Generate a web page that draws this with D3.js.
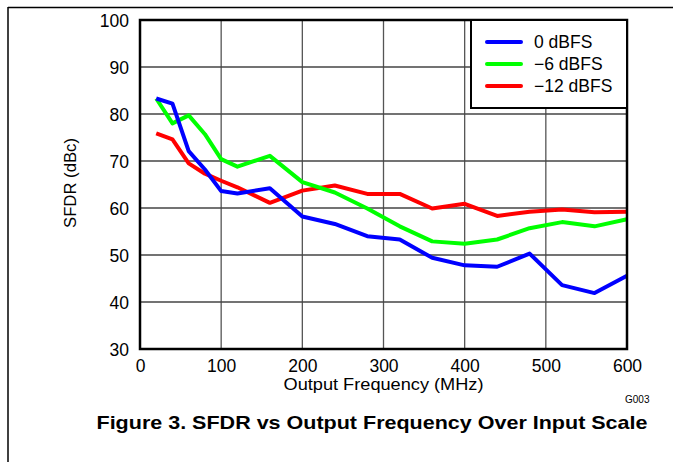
<!DOCTYPE html>
<html>
<head>
<meta charset="utf-8">
<script src="https://cdn.jsdelivr.net/npm/d3@7"></script>
<style>
  body { margin: 0; background: #fff; }
  svg text { font-family: "Liberation Sans", Arial, sans-serif; fill: #000; }
</style>
</head>
<body>
<script>
// output frequency (MHz)
var freqs = [20, 40, 60, 80, 100, 120, 160, 200, 240, 280, 320, 360, 400, 440, 480, 520, 560, 600];
// SFDR (dBc) per input scale
var sfdr0 = [83.3, 82.2, 72.1, 68.2, 63.6, 63.1, 64.2, 58.2, 56.6, 54.0, 53.3, 49.4, 47.8, 47.5, 50.3, 43.6, 41.9, 45.6];
var sfdr6 = [83.3, 78.0, 79.7, 75.7, 70.4, 68.8, 71.1, 65.5, 63.3, 59.9, 56.1, 52.9, 52.4, 53.3, 55.7, 57.0, 56.1, 57.6];
var sfdr12 = [75.9, 74.6, 69.5, 67.3, 65.8, 64.4, 61.1, 63.7, 64.8, 63.0, 63.0, 59.9, 60.9, 58.3, 59.2, 59.7, 59.1, 59.2];
var seriesNames = ["0 dBFS", "\u22126 dBFS", "\u221212 dBFS"];
var seriesColors = ["#0000ff", "#00ff00", "#ff0000"];
var xTicks = [0, 100, 200, 300, 400, 500, 600];
var yTicks = [30, 40, 50, 60, 70, 80, 90, 100];

var svg = d3.select("body").
  append("svg").
  attr("width", 673).
  attr("height", 462);

var plotL = 140, plotR = 627, plotT = 20, plotB = 349;

var x = d3.scaleLinear().domain([0, 600]).range([plotL, plotR]);
var y = d3.scaleLinear().domain([30, 100]).range([plotB, plotT]);

// page border lines
svg.append("line").attr("x1", 8).attr("x2", 673).attr("y1", 7.5).attr("y2", 7.5)
  .attr("stroke", "#000").attr("stroke-width", 1.5);
svg.append("line").attr("x1", 8).attr("x2", 8).attr("y1", 7).attr("y2", 462)
  .attr("stroke", "#000").attr("stroke-width", 1.5);

// grid
svg.append("g").selectAll("line").data(xTicks.slice(1, -1)).enter().append("line")
  .attr("x1", function(d) { return x(d); })
  .attr("x2", function(d) { return x(d); })
  .attr("y1", plotT).attr("y2", plotB)
  .attr("stroke", "#555").attr("stroke-width", 1.3);
svg.append("g").selectAll("line").data(yTicks.slice(1, -1)).enter().append("line")
  .attr("x1", plotL).attr("x2", plotR)
  .attr("y1", function(d) { return y(d); })
  .attr("y2", function(d) { return y(d); })
  .attr("stroke", "#444").attr("stroke-width", 1.3);

// axes (labels only, frame drawn below)
var xAxis = svg.append("g").attr("transform", "translate(0," + plotB + ")")
  .call(d3.axisBottom(x).tickValues(xTicks).tickSize(0).tickPadding(10));
var yAxis = svg.append("g").attr("transform", "translate(" + plotL + ",0)")
  .call(d3.axisLeft(y).tickValues(yTicks).tickSize(0).tickPadding(11));
[xAxis, yAxis].forEach(function(a) {
  a.select(".domain").remove();
  a.selectAll("text").attr("font-size", "17.5px").attr("font-family", "Liberation Sans, Arial, sans-serif");
});
xAxis.selectAll("text").attr("dy", "0.72em");
yAxis.selectAll("text").attr("dy", "0.36em");

// lines
var allSeries = [sfdr0, sfdr6, sfdr12];
var line = d3.line()
  .x(function(d) { return x(d[0]); })
  .y(function(d) { return y(d[1]); });

svg.append("g").selectAll("path").data(allSeries.slice().reverse()).enter().append("path")
  .attr("d", function(vals) { return line(d3.zip(freqs, vals)); })
  .attr("fill", "none")
  .attr("stroke", function(vals) { return seriesColors[allSeries.indexOf(vals)]; })
  .attr("stroke-width", 4)
  .attr("stroke-linejoin", "round");

// frame
svg.append("rect").attr("x", plotL).attr("y", plotT)
  .attr("width", plotR - plotL).attr("height", plotB - plotT)
  .attr("fill", "none").attr("stroke", "#000").attr("stroke-width", 2.5);

// legend
var lg = svg.append("g");
lg.append("rect").attr("x", 471).attr("y", plotT).attr("width", plotR - 471).attr("height", 88)
  .attr("fill", "#fff").attr("stroke", "#000").attr("stroke-width", 2);
seriesNames.forEach(function(name, i) {
  var ly = 42 + i * 22;
  lg.append("line").attr("x1", 487).attr("x2", 521).attr("y1", ly).attr("y2", ly)
    .attr("stroke", seriesColors[i]).attr("stroke-width", 4).attr("stroke-linecap", "round");
  lg.append("text").attr("x", 534).attr("y", ly).attr("dy", "0.36em")
    .attr("font-size", "17.5px").text(name);
});

// axis titles
svg.append("text").attr("x", (plotL + plotR) / 2).attr("y", 390)
  .attr("text-anchor", "middle").attr("font-size", "17px")
  .attr("textLength", 200).attr("lengthAdjust", "spacingAndGlyphs")
  .text("Output Frequency (MHz)");
svg.append("text").attr("transform", "translate(76,183) rotate(-90)")
  .attr("text-anchor", "middle").attr("font-size", "16.5px")
  .attr("textLength", 90).attr("lengthAdjust", "spacingAndGlyphs")
  .text("SFDR (dBc)");
svg.append("text").attr("x", 625).attr("y", 403)
  .attr("font-size", "10px").text("G003");

// caption
svg.append("text").attr("x", 372).attr("y", 429)
  .attr("text-anchor", "middle").attr("font-size", "19px").attr("font-weight", "bold")
  .attr("textLength", 551).attr("lengthAdjust", "spacingAndGlyphs")
  .text("Figure 3. SFDR vs Output Frequency Over Input Scale");
</script>
</body>
</html>
